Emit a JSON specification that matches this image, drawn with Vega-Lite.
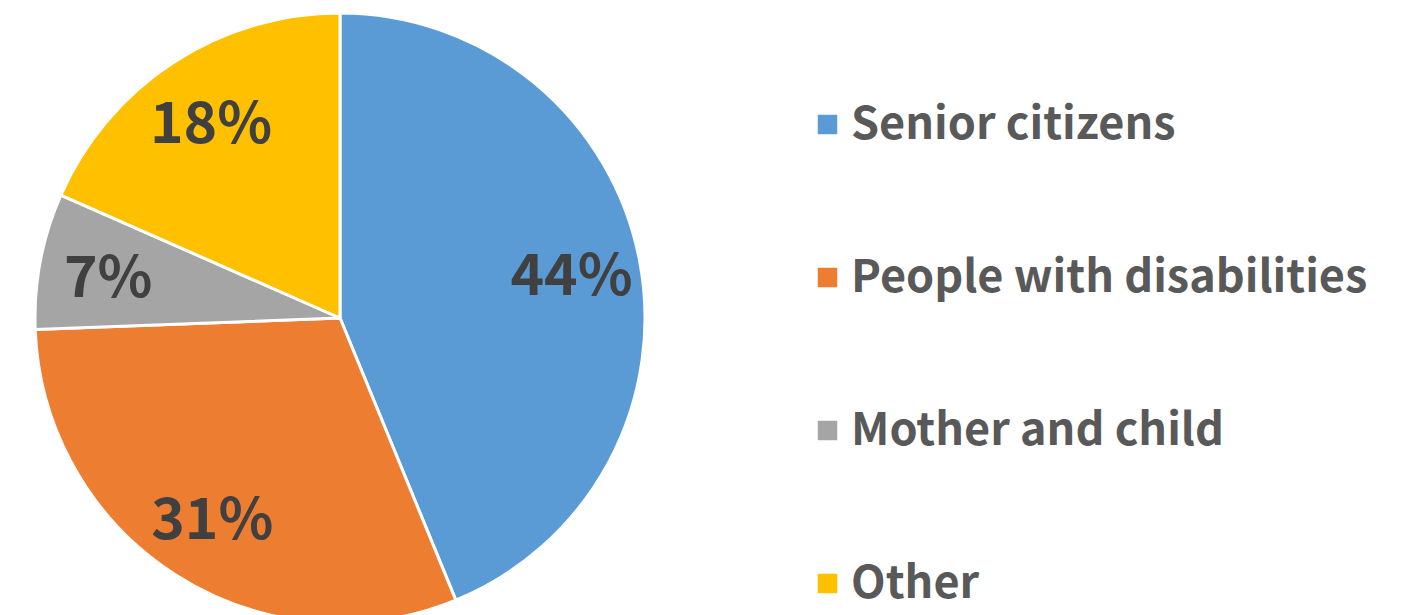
{
  "$schema": "https://vega.github.io/schema/vega-lite/v6.json",
  "width": 680,
  "height": 636,
  "padding": 0,
  "background": "white",
  "data": {
    "values": [
      {"category": "Senior citizens", "share": 43.8, "label": "44%", "idx": 1},
      {"category": "People with disabilities", "share": 30.6, "label": "31%", "idx": 2},
      {"category": "Mother and child", "share": 7.2, "label": "7%", "idx": 3},
      {"category": "Other", "share": 18.4, "label": "18%", "idx": 4}
    ]
  },
  "encoding": {
    "theta": {"field": "share", "type": "quantitative", "stack": true},
    "order": {"field": "idx", "type": "quantitative"}
  },
  "layer": [
    {
      "mark": {"type": "arc", "outerRadius": 305, "stroke": "white", "strokeWidth": 3},
      "encoding": {
        "color": {
          "field": "category",
          "type": "nominal",
          "scale": {
            "domain": ["Senior citizens", "People with disabilities", "Mother and child", "Other"],
            "range": ["#5B9BD5", "#ED7D31", "#A5A5A5", "#FFC000"]
          },
          "legend": {
            "title": null,
            "orient": "none",
            "legendX": 805,
            "legendY": 102,
            "symbolType": "square",
            "symbolSize": 380,
            "symbolStrokeWidth": 0,
            "labelFont": "Noto Sans CJK JP",
            "labelFontWeight": "bold",
            "labelFontSize": 45,
            "labelColor": "#595959",
            "labelLimit": 700,
            "labelOffset": 1,
            "rowPadding": 107
          }
        }
      }
    },
    {
      "mark": {
        "type": "text",
        "radius": 236,
        "dy": 6,
        "font": "Noto Sans CJK JP",
        "fontWeight": "bold",
        "fontSize": 57,
        "fill": "#404040",
        "align": "center",
        "baseline": "middle"
      },
      "encoding": {
        "text": {"field": "label", "type": "nominal"}
      }
    }
  ]
}
